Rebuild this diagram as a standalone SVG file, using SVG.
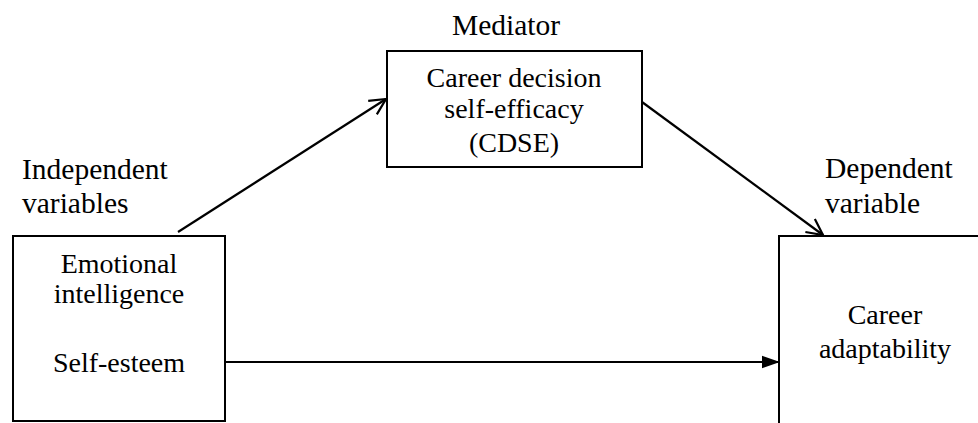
<svg xmlns="http://www.w3.org/2000/svg" width="978" height="423" viewBox="0 0 978 423">
<style>
.box{fill:#fff;stroke:#000;stroke-width:2}
.t{font-size:28px;fill:#000;text-anchor:middle}
.lbl{font-size:29.5px;fill:#000}
.c{fill:none;stroke:#000;stroke-width:2.2}
</style>
<defs>
<marker id="open" viewBox="0 0 20 20" refX="18" refY="10" markerWidth="20" markerHeight="20" markerUnits="userSpaceOnUse" orient="auto">
<path d="M2,2 L18,10 L2,18" fill="none" stroke="#000" stroke-width="2.2"/>
</marker>
<marker id="solid" viewBox="0 0 20 20" refX="19" refY="10" markerWidth="18" markerHeight="18" markerUnits="userSpaceOnUse" orient="auto">
<path d="M0,3 L20,10 L0,17 Z" fill="#000"/>
</marker>
</defs>
<rect width="978" height="423" fill="#fff"/>
<g font-family="Liberation Serif, serif">
<g id="labels">
<text class="lbl" x="506" y="35" text-anchor="middle">Mediator</text>
<text class="lbl" x="22" y="179">Independent</text>
<text class="lbl" x="22" y="213">variables</text>
<text class="lbl" x="825" y="178">Dependent</text>
<text class="lbl" x="825" y="213">variable</text>
</g>
<g id="connectors">
<line class="c" x1="178" y1="232" x2="386" y2="99" marker-end="url(#open)"/>
<line class="c" x1="642" y1="102" x2="823" y2="235" marker-end="url(#open)"/>
<line class="c" x1="225" y1="362" x2="779" y2="362" marker-end="url(#solid)"/>
</g>
<g id="independent">
<rect class="box" x="13" y="236" width="212" height="185"/>
<text class="t" x="119" y="273">Emotional</text>
<text class="t" x="119" y="303">intelligence</text>
<text class="t" x="119" y="372">Self-esteem</text>
</g>
<g id="mediator">
<rect class="box" x="387" y="51" width="255" height="116"/>
<text class="t" x="514" y="87">Career decision</text>
<text class="t" x="514" y="118">self-efficacy</text>
<text class="t" x="514" y="152">(CDSE)</text>
</g>
<g id="dependent">
<rect class="box" x="779" y="236" width="220" height="200"/>
<text class="t" x="885" y="324">Career</text>
<text class="t" x="885" y="358">adaptability</text>
</g>
</g>
</svg>
